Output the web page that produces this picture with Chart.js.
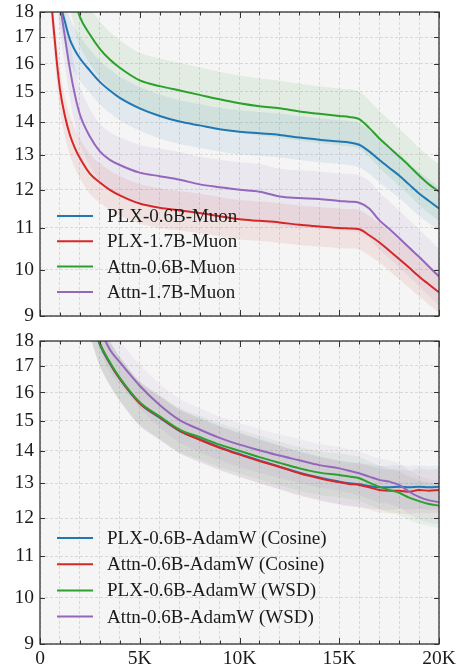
<!DOCTYPE html>
<html>
<head>
<meta charset="utf-8">
<script src="https://cdn.jsdelivr.net/npm/chart.js@4.4.1/dist/chart.umd.min.js"></script>
<style>
  body { margin: 0; background: #fff; }
  #wrap { position: relative; width: 465px; height: 669px; }
  canvas { position: absolute; left: 0; }
</style>
</head>
<body>
<div id="wrap">
  <canvas id="muonChart" width="465" height="330" style="top:0"></canvas>
  <canvas id="adamChart" width="465" height="339" style="top:330px"></canvas>
</div>
<script>
// training steps shared by both panels
const steps = [0, 250, 500, 750, 1000, 1250, 1500, 1750, 2000, 2500, 3000, 3500, 4000,
  5000, 6000, 7000, 8000, 9000, 10000, 11000, 12000, 13000, 14000, 15000, 15500,
  16000, 16500, 17000, 17500, 18000, 18500, 19000, 19500, 20000];

const yTicks = [9, 10, 11, 12, 13, 14, 15, 16, 17, 18];
const xTicks = [0, 1000, 2000, 3000, 4000, 5000, 6000, 7000, 8000, 9000, 10000,
  11000, 12000, 13000, 14000, 15000, 16000, 17000, 18000, 19000, 20000];

// top panel (Muon)
const muonLabels = ["PLX-0.6B-Muon", "PLX-1.7B-Muon", "Attn-0.6B-Muon", "Attn-1.7B-Muon"];
const plx06Muon = [40, 30, 24, 20.5, 18.5, 17.6, 16.9, 16.5, 16.2, 15.75, 15.35, 15.05, 14.8,
  14.45, 14.2, 14.02, 13.9, 13.78, 13.7, 13.65, 13.6, 13.52, 13.45, 13.4, 13.37,
  13.3, 13.1, 12.85, 12.62, 12.4, 12.15, 11.9, 11.7, 11.5];
const plx17Muon = [40, 27, 19.5, 16.8, 15.1, 14.2, 13.6, 13.2, 12.9, 12.45, 12.2, 12.0, 11.85,
  11.63, 11.52, 11.45, 11.38, 11.3, 11.22, 11.18, 11.14, 11.08, 11.04, 11.0, 10.99,
  10.97, 10.82, 10.65, 10.45, 10.25, 10.05, 9.85, 9.67, 9.5];
const attn06Muon = [45, 36, 30, 26, 23, 21, 19.5, 18.5, 17.8, 17.1, 16.55, 16.15, 15.85,
  15.4, 15.2, 15.05, 14.9, 14.75, 14.62, 14.52, 14.45, 14.35, 14.27, 14.2, 14.17,
  14.1, 13.82, 13.5, 13.22, 12.95, 12.68, 12.4, 12.15, 11.95];
const attn17Muon = [40, 30, 24, 20.5, 18.4, 17.0, 15.8, 14.9, 14.25, 13.55, 13.1, 12.85, 12.7,
  12.48, 12.38, 12.28, 12.15, 12.07, 12.0, 11.95, 11.82, 11.78, 11.75, 11.7, 11.68,
  11.65, 11.5, 11.2, 10.98, 10.75, 10.52, 10.3, 10.07, 9.85];
const muonSpread = [0.05, 0.045, 0.065, 0.065];

// bottom panel (AdamW)
const adamLabels = ["PLX-0.6B-AdamW (Cosine)", "Attn-0.6B-AdamW (Cosine)",
  "PLX-0.6B-AdamW (WSD)", "Attn-0.6B-AdamW (WSD)"];
const plxCosine = [40, 35, 31, 28, 26, 24.5, 23, 21.8, 20.7, 19.2, 17.85, 17.1, 16.5,
  15.6, 15.1, 14.65, 14.38, 14.12, 13.9, 13.7, 13.5, 13.32, 13.17, 13.05, 13.0,
  12.97, 12.92, 12.88, 12.88, 12.9, 12.88, 12.9, 12.88, 12.9];
const attnCosine = [40, 35, 31, 28, 26, 24.5, 23, 21.8, 20.7, 19.2, 17.9, 17.12, 16.52,
  15.62, 15.12, 14.66, 14.36, 14.1, 13.88, 13.68, 13.5, 13.3, 13.15, 13.03, 12.98,
  12.95, 12.88, 12.8, 12.78, 12.78, 12.75, 12.8, 12.78, 12.8];
const plxWsd = [40, 35, 31, 28, 26, 24.5, 23, 21.8, 20.7, 19.2, 17.9, 17.15, 16.55,
  15.65, 15.15, 14.7, 14.45, 14.2, 14.0, 13.8, 13.62, 13.45, 13.32, 13.25, 13.2,
  13.15, 13.02, 12.9, 12.8, 12.72, 12.58, 12.48, 12.4, 12.35];
const attnWsd = [45, 40, 35.5, 32, 29, 27, 25.2, 23.6, 22.2, 20.3, 18.6, 17.65, 17.15,
  16.25, 15.55, 15.02, 14.7, 14.42, 14.2, 14.02, 13.85, 13.7, 13.55, 13.45, 13.38,
  13.3, 13.2, 13.1, 13.05, 12.95, 12.75, 12.6, 12.5, 12.45];
const adamSpread = [0.05, 0.05, 0.05, 0.05];

const colors = ["#1f77b4", "#d62728", "#2ca02c", "#9467bd"];
const fontFamily = "'Liberation Serif', 'DejaVu Serif', serif";

function bandColor(hex, alpha) {
  const n = parseInt(hex.slice(1), 16);
  return `rgba(${n >> 16},${(n >> 8) & 255},${n & 255},${alpha})`;
}

const panelPlugin = {
  id: "panel",
  beforeDraw(chart) {
    const { ctx, chartArea: a } = chart;
    ctx.save();
    ctx.fillStyle = "#f5f5f5";
    ctx.fillRect(a.left, a.top, a.width, a.height);
    ctx.restore();
  },
  afterDraw(chart, args, opts) {
    const { ctx, chartArea: a, scales } = chart;
    ctx.save();
    // inward ticks on all four sides
    ctx.strokeStyle = "#333";
    ctx.lineWidth = 1;
    ctx.beginPath();
    xTicks.forEach(v => {
      const x = Math.round(scales.x.getPixelForValue(v)) + 0.5;
      const len = v % 5000 === 0 ? 6 : 3.5;
      ctx.moveTo(x, a.bottom); ctx.lineTo(x, a.bottom - len);
      ctx.moveTo(x, a.top); ctx.lineTo(x, a.top + len);
    });
    yTicks.forEach(v => {
      const y = Math.round(scales.y.getPixelForValue(v)) + 0.5;
      ctx.moveTo(a.left, y); ctx.lineTo(a.left + 5, y);
      ctx.moveTo(a.right, y); ctx.lineTo(a.right - 5, y);
    });
    ctx.stroke();
    ctx.lineWidth = 1.3;
    ctx.strokeRect(a.left, a.top, a.width, a.height);

    // legend in lower left
    ctx.font = "19px " + fontFamily;
    ctx.textBaseline = "middle";
    const lines = chart.data.datasets.filter(d => d.isLine);
    lines.forEach((d, i) => {
      const y = opts.top + i * opts.gap;
      ctx.strokeStyle = d.borderColor;
      ctx.lineWidth = 2;
      ctx.beginPath();
      ctx.moveTo(a.left + 17, y);
      ctx.lineTo(a.left + 53, y);
      ctx.stroke();
      ctx.fillStyle = "#1a1a1a";
      ctx.fillText(d.label, a.left + 67, y + 1);
    });
    ctx.restore();
  }
};

function makeChart(id, labels, series, spread, alpha, showX, padding, legendTop, legendGap) {
  const datasets = [];
  series.forEach((vals, i) => {
    datasets.push({
      label: labels[i] + " low",
      data: steps.map((s, j) => ({ x: s, y: vals[j] * (1 - spread[i]) })),
      borderWidth: 0, pointRadius: 0, fill: false, order: 20 + i, tension: 0.3
    });
    datasets.push({
      label: labels[i] + " high",
      data: steps.map((s, j) => ({ x: s, y: vals[j] * (1 + spread[i]) })),
      borderWidth: 0, pointRadius: 0, fill: "-1",
      backgroundColor: bandColor(colors[i], alpha), order: 20 + i, tension: 0.3
    });
  });
  series.forEach((vals, i) => {
    datasets.push({
      label: labels[i],
      isLine: true,
      data: steps.map((s, j) => ({ x: s, y: vals[j] })),
      borderColor: colors[i],
      borderWidth: 2,
      pointRadius: 0,
      fill: false,
      cubicInterpolationMode: "monotone",
      order: 10 - i
    });
  });

  return new Chart(document.getElementById(id), {
    type: "line",
    data: { datasets },
    plugins: [panelPlugin],
    options: {
      responsive: false,
      animation: false,
      devicePixelRatio: 1,
      layout: { padding },
      plugins: {
        legend: { display: false },
        tooltip: { enabled: false },
        panel: { top: legendTop, gap: legendGap }
      },
      scales: {
        x: {
          type: "linear",
          min: 0,
          max: 20000,
          afterBuildTicks: s => { s.ticks = xTicks.map(v => ({ value: v })); },
          afterFit: s => {
            s.height = showX ? 25 : 0;
            s.paddingLeft = 0; s.paddingRight = 0;
          },
          ticks: {
            display: showX,
            autoSkip: false,
            maxRotation: 0,
            padding: 3,
            color: "#1a1a1a",
            font: { family: fontFamily, size: 19.5 },
            callback: v => v % 5000 !== 0 ? "" : (v === 0 ? "0" : v / 1000 + "K")
          },
          grid: { color: "#d0d0d0", lineWidth: 0.8, drawTicks: false },
          border: { display: false, dash: [3, 2] }
        },
        y: {
          type: "logarithmic",
          min: 9,
          max: 18,
          afterBuildTicks: s => { s.ticks = yTicks.map(v => ({ value: v })); },
          afterFit: s => {
            s.width = 40;
            s.paddingTop = 0; s.paddingBottom = 0;
          },
          ticks: {
            padding: 6,
            color: "#1a1a1a",
            font: { family: fontFamily, size: 19.5 },
            callback: v => String(v)
          },
          grid: { color: "#d0d0d0", lineWidth: 0.8, drawTicks: false },
          border: { display: false, dash: [3, 2] }
        }
      }
    }
  });
}

makeChart("muonChart", muonLabels, [plx06Muon, plx17Muon, attn06Muon, attn17Muon],
  muonSpread, 0.09, false, { top: 12, right: 26, bottom: 14, left: 0 }, 216, 25.3);
makeChart("adamChart", adamLabels, [plxCosine, attnCosine, plxWsd, attnWsd],
  adamSpread, 0.07, true, { top: 11, right: 26, bottom: 0, left: 0 }, 208, 26.2);
</script>
</body>
</html>
